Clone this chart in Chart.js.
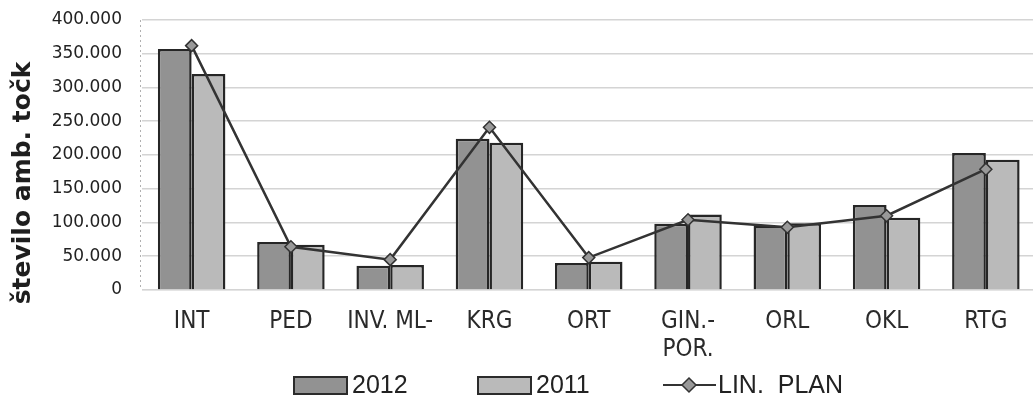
<!DOCTYPE html>
<html>
<head>
<meta charset="utf-8">
<script src="https://cdn.jsdelivr.net/npm/chart.js@4/dist/chart.umd.min.js"></script>
<style>
  html, body { margin: 0; padding: 0; background: #fff; overflow: hidden; }
  #wrap { position: relative; width: 1043px; height: 398px; }
</style>
</head>
<body>
<div id="wrap"><canvas id="c"></canvas></div>
<script>
// Ambulatory points by department
const categories = ['INT', 'PED', 'INV. ML-', 'KRG', 'ORT', ['GIN.-', 'POR.'], 'ORL', 'OKL', 'RTG'];
const values2012 = [357000, 71000, 36000, 224000, 40000, 98000, 95000, 126000, 203000];
const values2011 = [320000, 67000, 37000, 218000, 42000, 112000, 99000, 107000, 193000];
const planValues = [362000, 64000, 45000, 241000, 48000, 104000, 93000, 110000, 179000];
const yTicks = [0, 50000, 100000, 150000, 200000, 250000, 300000, 350000, 400000];
const yTitle = 'število amb. točk';
const seriesNames = ['2012', '2011', 'LIN.  PLAN'];

const fmt = v => String(v).replace(/\B(?=(\d{3})+(?!\d))/g, '.');

// Axis title, dotted value axis line and legend drawn on the canvas
const decorations = {
  id: 'decorations',
  beforeDatasetsDraw(chart) {
    const { ctx, chartArea } = chart;
    ctx.save();
    ctx.strokeStyle = '#b0b0b0';
    ctx.lineWidth = 1;
    ctx.setLineDash([2, 3]);
    ctx.beginPath();
    ctx.moveTo(chartArea.left - 1.5, chartArea.top);
    ctx.lineTo(chartArea.left - 1.5, chartArea.bottom);
    ctx.stroke();
    ctx.restore();
  },
  afterDraw(chart) {
    const ctx = chart.ctx;
    ctx.save();
    ctx.translate(23, 183);
    ctx.rotate(-Math.PI / 2);
    ctx.font = 'bold 25px "DejaVu Sans"';
    ctx.fillStyle = '#1e1e1e';
    ctx.textAlign = 'center';
    ctx.textBaseline = 'middle';
    ctx.fillText(yTitle, 0, 0);
    ctx.restore();

    ctx.save();
    const ds = chart.data.datasets;
    const y = 385;
    ctx.font = '25px "Liberation Sans"';
    ctx.textBaseline = 'middle';
    const boxes = [[1, 294, 53], [2, 478, 53]];
    boxes.forEach(([i, bx, bw]) => {
      ctx.fillStyle = ds[i].backgroundColor;
      ctx.fillRect(bx, y - 8, bw, 17);
      ctx.strokeStyle = '#2b2b2b';
      ctx.lineWidth = 2;
      ctx.strokeRect(bx, y - 8, bw, 17);
      ctx.fillStyle = '#222';
      ctx.fillText(ds[i].label, bx + bw + 5, y + 1);
    });
    ctx.strokeStyle = '#333';
    ctx.lineWidth = 2;
    ctx.beginPath();
    ctx.moveTo(663, y);
    ctx.lineTo(716, y);
    ctx.stroke();
    ctx.beginPath();
    ctx.moveTo(689, y - 7); ctx.lineTo(696, y); ctx.lineTo(689, y + 7); ctx.lineTo(682, y);
    ctx.closePath();
    ctx.fillStyle = '#999';
    ctx.fill();
    ctx.lineWidth = 1.5;
    ctx.stroke();
    ctx.fillStyle = '#222';
    ctx.fillText(ds[0].label, 718, y + 1);
    ctx.restore();
  }
};

new Chart(document.getElementById('c'), {
  data: {
    labels: categories,
    datasets: [
      {
        type: 'line', label: seriesNames[2], data: planValues, order: 0,
        borderColor: '#333', borderWidth: 2.5, tension: 0,
        pointStyle: 'rectRot', pointRadius: 6, pointBackgroundColor: '#999',
        pointBorderColor: '#333', pointBorderWidth: 1.5
      },
      {
        type: 'bar', label: seriesNames[0], data: values2012, order: 1,
        backgroundColor: '#929292', borderColor: '#262626', borderWidth: 2.5,
        categoryPercentage: 0.68, barPercentage: 1.0
      },
      {
        type: 'bar', label: seriesNames[1], data: values2011, order: 1,
        backgroundColor: '#bababa', borderColor: '#262626', borderWidth: 2.5,
        categoryPercentage: 0.68, barPercentage: 1.0
      }
    ]
  },
  options: {
    responsive: true,
    maintainAspectRatio: false,
    animation: false,
    layout: { padding: { top: 20, right: 1, bottom: 0, left: 0 } },
    plugins: { legend: { display: false }, tooltip: { enabled: false } },
    scales: {
      x: {
        grid: { display: false, drawTicks: false },
        border: { display: true, color: '#e4e4e4', width: 1 },
        ticks: {
          color: '#2a2a2a', padding: 18,
          font: { family: '"DejaVu Sans Condensed"', size: 24, lineHeight: 1.15 },
          maxRotation: 0, minRotation: 0, autoSkip: false
        },
        afterFit(s) { s.height = 108; }
      },
      y: {
        min: 0, max: 400000,
        afterBuildTicks(s) { s.ticks = yTicks.map(v => ({ value: v })); },
        grid: { color: '#d4d4d4', lineWidth: 1.6, drawTicks: false },
        border: { display: false },
        ticks: {
          color: '#222', padding: 20,
          font: { family: '"DejaVu Sans"', size: 17 },
          callback: v => fmt(v)
        },
        afterFit(s) { s.width = 142; s.paddingTop = 0; s.paddingBottom = 0; }
      }
    }
  },
  plugins: [decorations]
});
</script>
</body>
</html>
